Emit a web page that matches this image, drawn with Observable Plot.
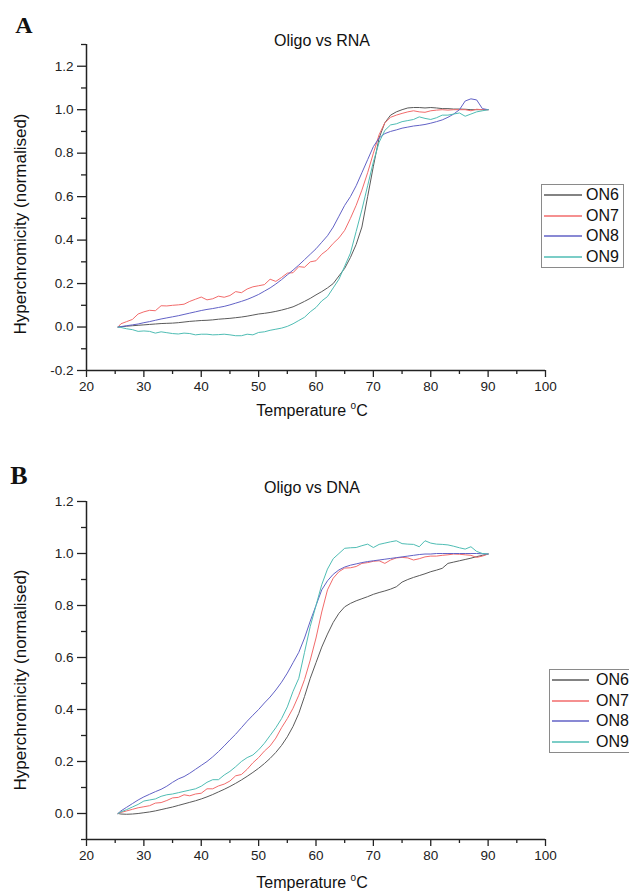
<!DOCTYPE html>
<html><head><meta charset="utf-8">
<script src="https://cdn.jsdelivr.net/npm/d3@7"></script>
<script src="https://cdn.jsdelivr.net/npm/@observablehq/plot@0.6"></script>
<style>
body{margin:0;background:#fff;font-family:"Liberation Sans",Arial,sans-serif;color:#111;}
#wrap{position:relative;width:629px;height:893px;overflow:hidden;}
.abs{position:absolute;white-space:nowrap;line-height:1;}
.letter{font-family:"Liberation Serif","Times New Roman",serif;font-weight:bold;}
.legend{position:absolute;border:1px solid #8a8a8a;background:#fff;}
.legend .row{display:flex;align-items:center;height:20.5px;}
.legend svg{display:block;}
sup{font-size:10px;vertical-align:7px;}
</style></head><body><div id="wrap"></div>
<script>
const temps = [25.5,26,27,28,29,30,31,32,33,34,35,36,37,38,39,40,41,42,43,44,45,46,47,48,49,50,51,52,53,54,55,56,57,58,59,60,61,62,63,64,65,66,67,68,69,70,71,72,73,74,75,76,77,78,79,80,81,82,83,84,85,86,87,88,89,90];

const seriesNames = ["ON6","ON7","ON8","ON9"];
const seriesColors = ["#5a5a5a","#f26b6b","#6262c6","#4fbdb4"];

// Panel A: Oligo vs RNA
const on6A = [0,0.001,0.004,0.006,0.008,0.010,0.012,0.014,0.016,0.017,0.018,0.020,0.023,0.026,0.028,0.030,0.031,0.033,0.036,0.038,0.040,0.043,0.046,0.050,0.055,0.060,0.063,0.067,0.072,0.078,0.085,0.093,0.105,0.118,0.132,0.148,0.163,0.180,0.200,0.235,0.270,0.320,0.380,0.460,0.600,0.740,0.870,0.940,0.975,0.990,1.000,1.008,1.010,1.010,1.008,1.010,1.008,1.005,1.005,1.003,1.003,1.002,1.000,1.000,1.000,1.000];
const on7A = [0,0.015,0.025,0.035,0.060,0.070,0.077,0.075,0.098,0.097,0.100,0.102,0.105,0.118,0.128,0.138,0.125,0.130,0.142,0.137,0.145,0.163,0.158,0.175,0.185,0.190,0.195,0.220,0.210,0.228,0.248,0.250,0.278,0.275,0.300,0.305,0.335,0.355,0.385,0.410,0.445,0.500,0.560,0.630,0.710,0.800,0.885,0.940,0.965,0.975,0.983,0.990,0.995,0.990,0.988,0.995,0.998,1.000,0.998,1.000,1.000,1.000,0.995,1.002,1.000,1.000];
const on8A = [0,0.002,0.006,0.010,0.014,0.020,0.025,0.031,0.037,0.042,0.047,0.052,0.058,0.064,0.070,0.076,0.081,0.085,0.090,0.095,0.102,0.110,0.118,0.127,0.138,0.150,0.165,0.180,0.198,0.218,0.240,0.262,0.285,0.310,0.335,0.360,0.390,0.420,0.460,0.510,0.560,0.600,0.650,0.710,0.770,0.830,0.870,0.890,0.900,0.907,0.915,0.920,0.925,0.928,0.932,0.938,0.945,0.953,0.965,0.980,1.000,1.040,1.050,1.045,1.005,1.000];
const on9A = [0,-0.002,-0.008,-0.012,-0.020,-0.018,-0.020,-0.028,-0.022,-0.026,-0.030,-0.032,-0.028,-0.030,-0.036,-0.033,-0.033,-0.036,-0.035,-0.033,-0.036,-0.040,-0.040,-0.033,-0.036,-0.025,-0.022,-0.015,-0.010,-0.005,0.003,0.015,0.030,0.045,0.070,0.090,0.120,0.140,0.180,0.220,0.280,0.340,0.440,0.540,0.650,0.760,0.850,0.905,0.930,0.935,0.945,0.950,0.955,0.967,0.960,0.955,0.963,0.975,0.975,0.980,0.985,0.970,0.980,0.990,0.995,1.000];

// Panel B: Oligo vs DNA
const on6B = [0,-0.002,-0.003,-0.002,0.000,0.003,0.006,0.010,0.015,0.020,0.025,0.031,0.037,0.043,0.049,0.056,0.064,0.073,0.083,0.093,0.104,0.116,0.129,0.143,0.158,0.174,0.192,0.212,0.235,0.262,0.295,0.335,0.385,0.450,0.520,0.580,0.640,0.690,0.735,0.770,0.795,0.808,0.818,0.826,0.834,0.843,0.850,0.856,0.863,0.872,0.890,0.900,0.908,0.915,0.922,0.930,0.936,0.943,0.962,0.967,0.972,0.977,0.982,0.988,0.993,0.998];
const on7B = [0,0.004,0.010,0.016,0.022,0.026,0.030,0.040,0.042,0.050,0.060,0.062,0.072,0.068,0.075,0.078,0.095,0.095,0.106,0.113,0.125,0.145,0.150,0.170,0.195,0.215,0.240,0.260,0.290,0.330,0.365,0.405,0.455,0.515,0.590,0.675,0.775,0.860,0.905,0.930,0.944,0.945,0.950,0.962,0.965,0.970,0.972,0.962,0.975,0.983,0.985,0.983,0.975,0.980,0.987,0.990,0.990,0.993,0.995,0.998,0.997,0.995,0.993,0.985,0.990,0.998];
const on8B = [0,0.010,0.024,0.038,0.052,0.064,0.074,0.084,0.093,0.105,0.120,0.133,0.142,0.155,0.170,0.185,0.200,0.218,0.238,0.260,0.283,0.305,0.330,0.355,0.378,0.400,0.425,0.448,0.475,0.505,0.540,0.580,0.620,0.675,0.740,0.800,0.860,0.895,0.920,0.937,0.948,0.955,0.960,0.965,0.969,0.972,0.975,0.978,0.981,0.984,0.987,0.990,0.993,0.996,0.998,0.998,1.000,1.000,1.000,1.000,1.000,1.000,1.000,1.000,0.999,0.998];
const on9B = [0,0.006,0.015,0.025,0.035,0.048,0.052,0.056,0.066,0.072,0.075,0.080,0.085,0.090,0.095,0.105,0.120,0.130,0.130,0.148,0.162,0.180,0.200,0.215,0.225,0.245,0.270,0.300,0.330,0.365,0.410,0.470,0.520,0.620,0.720,0.800,0.880,0.940,0.980,1.000,1.020,1.022,1.023,1.030,1.036,1.023,1.035,1.040,1.045,1.049,1.038,1.036,1.035,1.026,1.049,1.040,1.036,1.035,1.033,1.028,1.022,1.017,1.026,1.008,1.000,0.998];

const xMajor = [20,30,40,50,60,70,80,90,100];
const xMinor = [25,35,45,55,65,75,85,95];
const yMajorA = [-0.2,0.0,0.2,0.4,0.6,0.8,1.0,1.2];
const yMinorA = [-0.1,0.1,0.3,0.5,0.7,0.9,1.1,1.3];
const yMajorB = [0.0,0.2,0.4,0.6,0.8,1.0,1.2];
const yMinorB = [-0.1,0.1,0.3,0.5,0.7,0.9,1.1];

function rows(arrs){
  const out=[];
  arrs.forEach((a,i)=>a.forEach((v,j)=>out.push({T:temps[j],v,s:seriesNames[i]})));
  return out;
}

function panel({data,yDomain,yMajor,yMinor,height,marginTop,marginBottom}){
  return Plot.plot({
    width:629,height,marginLeft:86,marginRight:84,marginTop,marginBottom,
    x:{domain:[20,100]},
    y:{domain:yDomain},
    color:{domain:seriesNames,range:seriesColors},
    style:{fontFamily:'"Liberation Sans",Arial,sans-serif',fontSize:"13.5px",color:"#222",background:"transparent",overflow:"visible"},
    marks:[
      Plot.axisX({ticks:xMinor,tickSize:4,tickFormat:()=>"",label:null,strokeWidth:1.3}),
      Plot.axisX({ticks:xMajor,tickSize:7,tickPadding:4,tickFormat:d=>String(d),label:null,fontSize:13.5,strokeWidth:1.3}),
      Plot.axisY({ticks:yMinor,tickSize:5,tickFormat:()=>"",label:null,strokeWidth:1.3}),
      Plot.axisY({ticks:yMajor,tickSize:9,tickPadding:4,tickFormat:d=>d.toFixed(1),label:null,fontSize:13.5,strokeWidth:1.3}),
      Plot.ruleX([20],{y1:yDomain[0],y2:yDomain[1],stroke:"#222",strokeWidth:1.5}),
      Plot.ruleY([yDomain[0]],{stroke:"#222",strokeWidth:1.5}),
      Plot.line(data,{x:"T",y:"v",z:"s",stroke:"s",strokeWidth:1})
    ]
  });
}

const wrap=document.getElementById("wrap");
function place(el,top){el.style.position="absolute";el.style.left="0px";el.style.top=top+"px";wrap.appendChild(el);}

place(panel({data:rows([on6A,on7A,on8A,on9A]),yDomain:[-0.2,1.3],yMajor:yMajorA,yMinor:yMinorA,height:440,marginTop:44,marginBottom:70}),0);
place(panel({data:rows([on6B,on7B,on8B,on9B]),yDomain:[-0.1,1.2],yMajor:yMajorB,yMinor:yMinorB,height:453,marginTop:61,marginBottom:54}),440);

function text(html,x,y,size,cls="",rot=false){
  const d=document.createElement("div");
  d.className="abs "+cls;
  d.innerHTML=html;
  d.style.left=x+"px";d.style.top=y+"px";d.style.fontSize=size+"px";
  d.style.transform="translate(-50%,-50%)"+(rot?" rotate(-90deg)":"");
  wrap.appendChild(d);
}
text("A",24,25,24,"letter");
text("B",19,476,26,"letter");
text("Oligo vs RNA",322,41,16);
text("Oligo vs DNA",312,488,16);
text("Temperature <sup>o</sup>C",312,410,16);
text("Temperature <sup>o</sup>C",312,882,16);
text("Hyperchromicity (normalised)",20,224,17,"",true);
text("Hyperchromicity (normalised)",20,680,17,"",true);

function legend(left,top,width,lineW,gap){
  const box=document.createElement("div");
  box.className="legend";
  box.style.left=left+"px";box.style.top=top+"px";box.style.width=width+"px";
  seriesNames.forEach((n,i)=>{
    const r=document.createElement("div");r.className="row";
    r.innerHTML=`<svg width="${lineW+4}" height="4" style="margin-left:1px"><line x1="1" x2="${lineW+1}" y1="2" y2="2" stroke="${seriesColors[i]}" stroke-width="1.3"/></svg><span style="font-size:16px;margin-left:${gap}px">${n}</span>`;
    box.appendChild(r);
  });
  wrap.appendChild(box);
}
legend(541,184,81,38,1);
legend(549,669,100,37,4);
</script></body></html>
